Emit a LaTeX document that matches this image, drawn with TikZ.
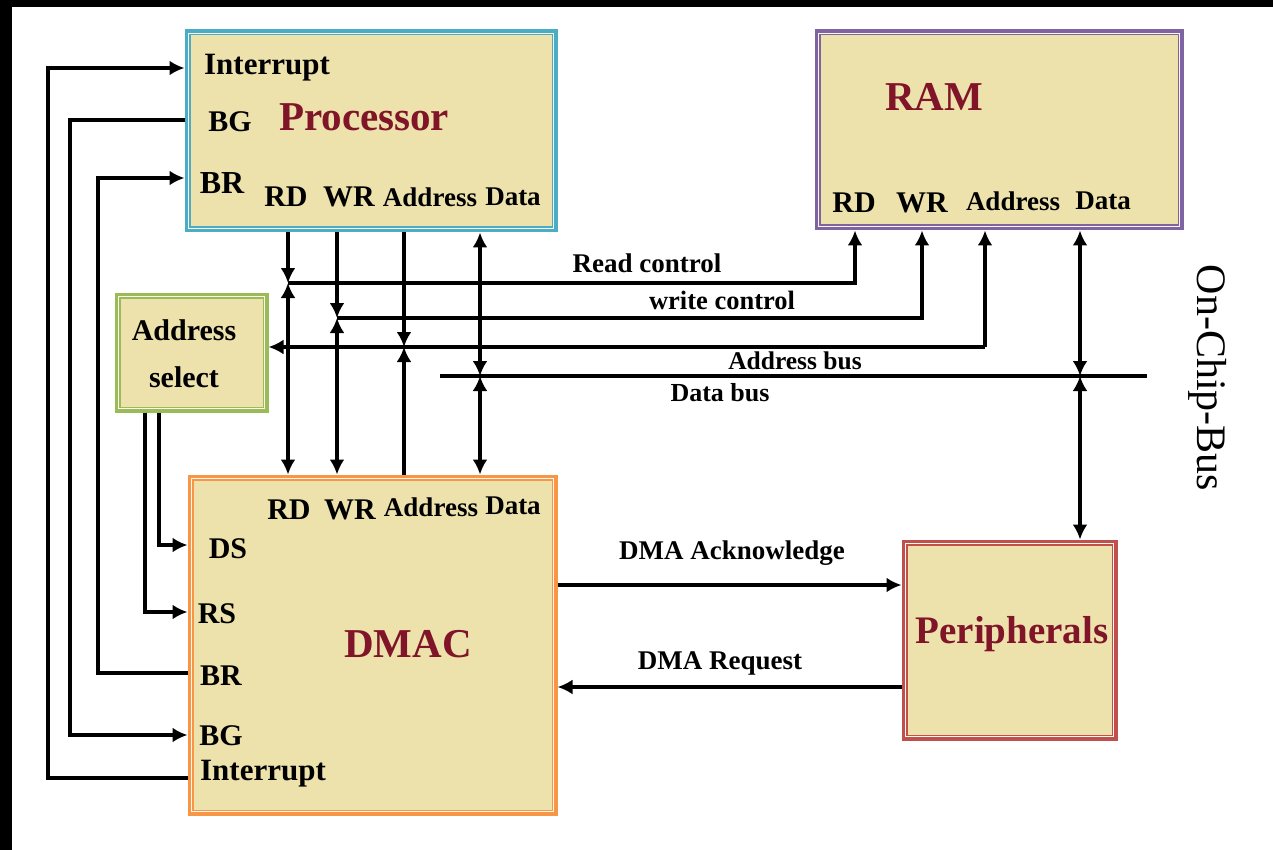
\documentclass[tikz,border=0pt]{standalone}
\usepackage{fontspec}
\setmainfont{Liberation Serif}
\usetikzlibrary{arrows.meta}
\definecolor{tanfill}{RGB}{237,225,172}
\definecolor{pcyan}{RGB}{75,172,198}
\definecolor{rpurple}{RGB}{128,100,162}
\definecolor{agreen}{RGB}{155,187,89}
\definecolor{dorange}{RGB}{247,150,70}
\definecolor{pred}{RGB}{192,80,77}
\definecolor{titlered}{RGB}{128,20,40}
\begin{document}
\begin{tikzpicture}[x=1pt,y=-1pt,
  blk/.style={draw=#1, line width=6pt, fill=tanfill, inner sep=0pt},
  lbl/.style={font=\fontsize{30}{32}\selectfont\bfseries, inner sep=0pt},
  slbl/.style={font=\fontsize{27}{29}\selectfont\bfseries, inner sep=0pt},
  buslbl/.style={font=\fontsize{27}{29}\selectfont\bfseries, inner sep=0pt},
  ttl/.style={font=\fontsize{41}{44}\selectfont\bfseries, text=titlered, inner sep=0pt},
  wire/.style={line width=3.6pt, draw=black},
  arr/.style={wire, -{Latex[length=15pt,width=15pt]}},
  barr/.style={wire, {Latex[length=15pt,width=15pt]}-{Latex[length=15pt,width=15pt]}},
]
\useasboundingbox (0,0) rectangle (1273,850);
% screenshot frame
\fill[black] (0,0) rectangle (1273,850);
\fill[white] (12,7) rectangle (1273,850);

% blocks
\node[blk=pcyan, minimum width=367pt, minimum height=197pt] (proc) at (371,131) {};
\node[blk=rpurple, minimum width=363pt, minimum height=195pt] (ram) at (999,130) {};
\node[blk=agreen, minimum width=148pt, minimum height=114pt] (addr) at (191.5,352.5) {};
\node[blk=dorange, minimum width=364pt, minimum height=335pt] (dmac) at (372.5,645) {};
\node[blk=pred, minimum width=210pt, minimum height=195pt] (peri) at (1009.5,640) {};
\foreach \n in {proc,ram,addr,dmac,peri}
  \draw[white!75!tanfill, line width=1.3pt] ([shift={(4pt,-4pt)}]\n.north west) rectangle ([shift={(-4pt,4pt)}]\n.south east);

% processor texts
\node[lbl, font=\fontsize{31}{33}\selectfont\bfseries] (pInt) at (267,68) {Interrupt};
\node[lbl] (pBG) at (230,122) {BG};
\node[ttl] (pT) at (364,117) {Processor};
\node[lbl, font=\fontsize{32}{34}\selectfont\bfseries] (pBR) at (222,183) {BR};
\node[lbl] (pRD) at (286,197) {RD};
\node[lbl] (pWR) at (349,197) {WR};
\node[slbl] (pAd) at (430,197) {Address};
\node[slbl] (pDa) at (513,197) {Data};

% RAM texts
\node[ttl] (rT) at (934,97) {RAM};
\node[lbl] (rRD) at (854,203) {RD};
\node[lbl] (rWR) at (922,203) {WR};
\node[slbl] (rAd) at (1013,201) {Address};
\node[slbl] (rDa) at (1103,201) {Data};

% DMAC texts
\node[lbl] (dRD) at (289,510) {RD};
\node[lbl] (dWR) at (350,510) {WR};
\node[slbl] (dAd) at (431,507) {Address};
\node[slbl] (dDa) at (513,506) {Data};
\node[lbl] (dDS) at (228,549) {DS};
\node[lbl] (dRS) at (217,614) {RS};
\node[lbl] (dBR) at (221,676) {BR};
\node[lbl] (dBG) at (221,736) {BG};
\node[lbl, font=\fontsize{31}{33}\selectfont\bfseries] (dInt) at (263,774) {Interrupt};
\node[ttl] (dT) at (408,644) {DMAC};

% address select and peripherals
\node[align=center, inner sep=0pt, font=\fontsize{30}{47}\selectfont\bfseries] (aT) at (184,354) {Address\\select};
\node[ttl, font=\fontsize{39}{42}\selectfont\bfseries] (peT) at (1012,634) {Peripherals};

% bus labels
\node[buslbl] (lRC) at (647,263) {Read control};
\node[buslbl, font=\fontsize{26.5}{28}\selectfont\bfseries] (lWC) at (722,300) {write control};
\node[buslbl, font=\fontsize{25.5}{28}\selectfont\bfseries] (lAB) at (795,361) {Address bus};
\node[buslbl, font=\fontsize{26}{28}\selectfont\bfseries] (lDB) at (720,393) {Data bus};
\node[buslbl] (lAck) at (732,553) {DMA Acknowledge};
\node[buslbl] (lReq) at (720,663) {DMA Request};
\node[font=\fontsize{42}{44}\selectfont, inner sep=0pt, rotate=-90] (ocb) at (1208,378) {On-Chip-Bus};

% bus junction coordinates
\coordinate (rc1) at (288,283);
\coordinate (rc2) at (855,283);
\coordinate (wc1) at (337,318);
\coordinate (wc2) at (922,318);
\coordinate (ab1) at (404,347);
\coordinate (ab2) at (985,347);
\coordinate (db1) at (480,376);
\coordinate (db2) at (1080,376);
\coordinate (dbL) at (440,376);
\coordinate (dbR) at (1147,376);

% read control
\draw[arr] (rc1 |- proc.south) -- (rc1);
\draw[barr] (rc1) -- (rc1 |- dmac.north);
\draw[arr] (rc1) -- (rc2) -- (rc2 |- ram.south);
% write control
\draw[arr] (wc1 |- proc.south) -- (wc1);
\draw[barr] (wc1) -- (wc1 |- dmac.north);
\draw[arr] (wc1) -- (wc2) -- (wc2 |- ram.south);
% address bus
\draw[arr] (ab1 |- proc.south) -- (ab1);
\draw[arr] (ab1 |- dmac.north) -- (ab1);
\draw[arr] (ab2) -- (ab2 |- ram.south);
\draw[arr] (ab2) -- (ab2 -| addr.east);
% data bus
\draw[wire] (dbL) -- (dbR);
\draw[barr] (db1 |- proc.south) -- (db1);
\draw[barr] (db1) -- (db1 |- dmac.north);
\draw[barr] (db2 |- ram.south) -- (db2);
\draw[barr] (db2) -- (db2 |- peri.north);

% left side control lines
\draw[arr] (dmac.west |- 0,778) -- (48,778) -- (48,68) -- (proc.west |- 0,68);
\draw[arr] (proc.west |- 0,120) -- (70,120) -- (70,735) -- (dmac.west |- 0,735);
\draw[arr] (dmac.west |- 0,673) -- (98,673) -- (98,178) -- (proc.west |- 0,178);
\draw[arr] (159,0 |- addr.south) -- (159,545) -- (dmac.west |- 0,545);
\draw[arr] (145,0 |- addr.south) -- (145,612) -- (dmac.west |- 0,612);

% DMA handshake
\draw[arr] (dmac.east |- 0,585) -- (peri.west |- 0,585);
\draw[arr] (peri.west |- 0,687) -- (dmac.east |- 0,687);
\end{tikzpicture}
\end{document}
